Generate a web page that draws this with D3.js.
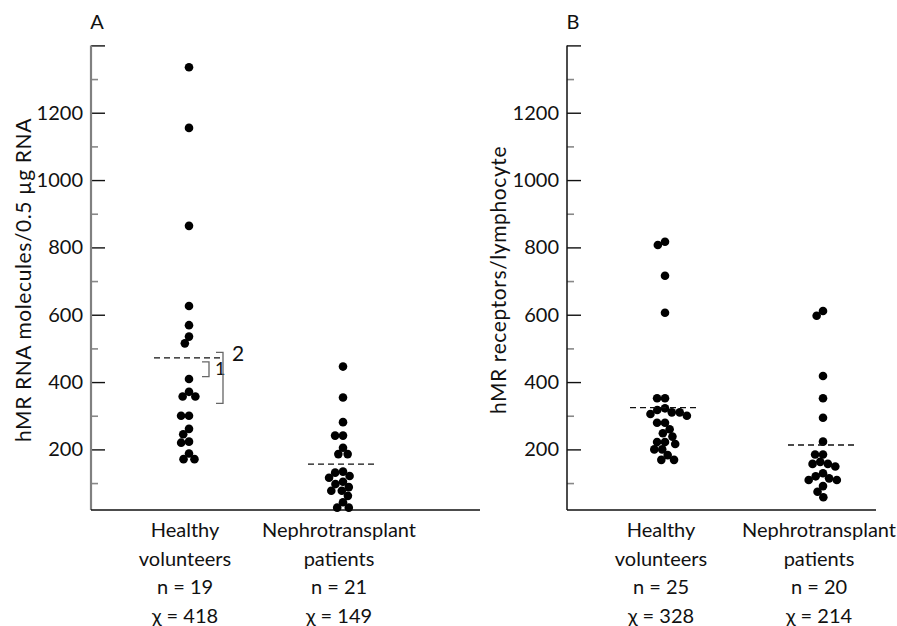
<!DOCTYPE html>
<html>
<head>
<meta charset="utf-8">
<script src="https://cdn.jsdelivr.net/npm/d3@7"></script>
<style>
  body { margin: 0; background: #fff; }
  svg text { font-family: Lato, "DejaVu Sans", sans-serif; fill: #111; }
</style>
</head>
<body>
<svg id="chart" width="897" height="626"></svg>
<script>
// groups on the x axis
const groups = ["Healthy", "Nephrotransplant"];
const groupLines = [["Healthy", "volunteers"], ["Nephrotransplant", "patients"]];

// panel A: hMR RNA molecules / 0.5 ug RNA
const rnaHealthy = [1335, 1155, 864, 626, 569, 535, 515, 409, 371, 357, 357, 300, 300, 261, 245, 223, 220, 188, 171, 171];
const rnaPatients = [446, 354, 281, 241, 241, 205, 186, 186, 134, 131, 121, 116, 104, 97, 88, 77, 77, 62, 43, 27, 27];
const rnaN = [19, 21];
const rnaMean = [418, 149];
const rnaDashed = [472, 156];
const rnaBrackets = [[416, 460, "1"], [337, 488, "2"]];

// panel B: hMR receptors / lymphocyte
const recHealthy = [817, 807, 716, 606, 352, 352, 322, 317, 310, 310, 305, 300, 279, 279, 260, 248, 238, 222, 222, 216, 200, 200, 183, 169, 169];
const recPatients = [611, 597, 418, 352, 294, 223, 185, 185, 163, 157, 157, 149, 129, 120, 114, 109, 109, 91, 74, 58];
const recN = [25, 20];
const recMean = [328, 214];
const recDashed = [324, 213];

// axis ticks
const yLabelTicks = [200, 400, 600, 800, 1000, 1200];
const yMajorTicks = [200, 400, 600, 800, 1000, 1200, 1400];
const yMinorTicks = [100, 300, 500, 700, 900, 1100, 1300];

const svg = d3.select("#chart");
const r = 4.3;

// simple beeswarm: put each dot as close to the centre as it can go
function swarm(values, cx, y) {
  const placed = [];
  const minD = 2 * r * 0.92;
  values.forEach(v => {
    const py = y(v);
    const blocked = [];
    placed.forEach(p => {
      const dy = Math.abs(p.y - py);
      if (dy < minD) {
        const w = Math.sqrt(minD * minD - dy * dy);
        blocked.push([p.x - w, p.x + w]);
      }
    });
    const cands = [cx];
    blocked.forEach(b => { cands.push(b[0], b[1]); });
    cands.sort((a, b) => Math.abs(a - cx) - Math.abs(b - cx));
    const x = cands.find(c => blocked.every(b => c <= b[0] + 1e-6 || c >= b[1] - 1e-6));
    placed.push({ x: x, y: py, v: v });
  });
  return placed;
}

function drawPanel(o) {
  const g = svg.append("g");
  const y = d3.scaleLinear().domain([20, 1400]).range([510, 45.4]);
  const x = d3.scalePoint().domain(groups).range(o.centers);

  // minor ticks
  g.append("g")
    .attr("transform", `translate(${o.x0},0)`)
    .call(d3.axisLeft(y).tickValues(yMinorTicks).tickSize(-7).tickFormat(""))
    .call(a => a.select(".domain").remove())
    .call(a => a.selectAll("line").attr("stroke", "#888").attr("stroke-width", 1.6));

  // major ticks
  g.append("g")
    .attr("transform", `translate(${o.x0},0)`)
    .call(d3.axisLeft(y).tickValues(yMajorTicks).tickSize(-14).tickPadding(8)
      .tickFormat(d => yLabelTicks.includes(d) ? d : ""))
    .call(a => a.select(".domain").remove())
    .call(a => a.selectAll("line").attr("stroke", "#111").attr("stroke-width", 1.4))
    .call(a => a.selectAll("text").style("font-size", "20px").attr("fill", "#111")
      .style("font-family", "Lato, sans-serif"));

  // axis lines
  g.append("line")
    .attr("x1", o.x0).attr("x2", o.x0)
    .attr("y1", y(1400)).attr("y2", y(20))
    .attr("stroke", o.axisColor).attr("stroke-width", o.axisWidth);
  g.append("line")
    .attr("x1", o.x0).attr("x2", o.x1)
    .attr("y1", y(20)).attr("y2", y(20))
    .attr("stroke", "#111").attr("stroke-width", 1.5);

  // panel letter
  g.append("text")
    .attr("x", o.x0 + 6).attr("y", 21)
    .attr("text-anchor", "middle").attr("dominant-baseline", "central")
    .style("font-size", "20px")
    .text(o.letter);

  // y title
  g.append("text")
    .attr("transform", `translate(${o.titleX},280) rotate(-90)`)
    .attr("text-anchor", "middle").attr("dominant-baseline", "central")
    .style("font-size", "21px").style("letter-spacing", "0.6px")
    .text(o.title);

  // dots
  o.series.forEach((vals, i) => {
    const pts = swarm(vals, x(groups[i]), y);
    g.selectAll(null).data(pts).enter().append("circle")
      .attr("cx", d => d.x).attr("cy", d => d.y)
      .attr("r", r).attr("fill", "#000");

    g.append("line")
      .attr("x1", x(groups[i]) - 35).attr("x2", x(groups[i]) + 33)
      .attr("y1", y(o.dashed[i])).attr("y2", y(o.dashed[i]))
      .attr("stroke", "#111").attr("stroke-width", 1.3)
      .attr("stroke-dasharray", "6,4");

    const lines = groupLines[i].concat([`n = ${o.n[i]}`, `\u03c7 = ${o.mean[i]}`]);
    g.selectAll(null).data(lines).enter().append("text")
      .attr("x", x(groups[i]) - 4)
      .attr("y", (d, j) => 529 + j * 28.7)
      .attr("text-anchor", "middle").attr("dominant-baseline", "central")
      .style("font-size", "20px")
      .text(d => d);
  });

  // brackets
  (o.brackets || []).forEach((b, j) => {
    const bx = x(groups[0]) + (j === 0 ? 20 : 34);
    g.append("path")
      .attr("d", `M${bx - 7},${y(b[0])}H${bx}V${y(b[1])}H${bx - 7}`)
      .attr("fill", "none").attr("stroke", "#666").attr("stroke-width", 1.3);
    g.append("text")
      .attr("x", bx + (j === 0 ? 6 : 9))
      .attr("y", j === 0 ? y(b[1]) + 6 : y(b[1]))
      .attr("dominant-baseline", "central")
      .style("font-size", j === 0 ? "18px" : "21px")
      .text(b[2]);
  });
}

drawPanel({
  letter: "A", x0: 91, x1: 480, centers: [189, 343], titleX: 22,
  title: "hMR RNA molecules/0.5 \u00b5g RNA",
  axisColor: "#808080", axisWidth: 2.2,
  series: [rnaHealthy, rnaPatients], n: rnaN, mean: rnaMean,
  dashed: rnaDashed, brackets: rnaBrackets
});

drawPanel({
  letter: "B", x0: 567, x1: 876, centers: [665, 823], titleX: 497,
  title: "hMR receptors/lymphocyte",
  axisColor: "#111", axisWidth: 1.5,
  series: [recHealthy, recPatients], n: recN, mean: recMean,
  dashed: recDashed
});
</script>
</body>
</html>
